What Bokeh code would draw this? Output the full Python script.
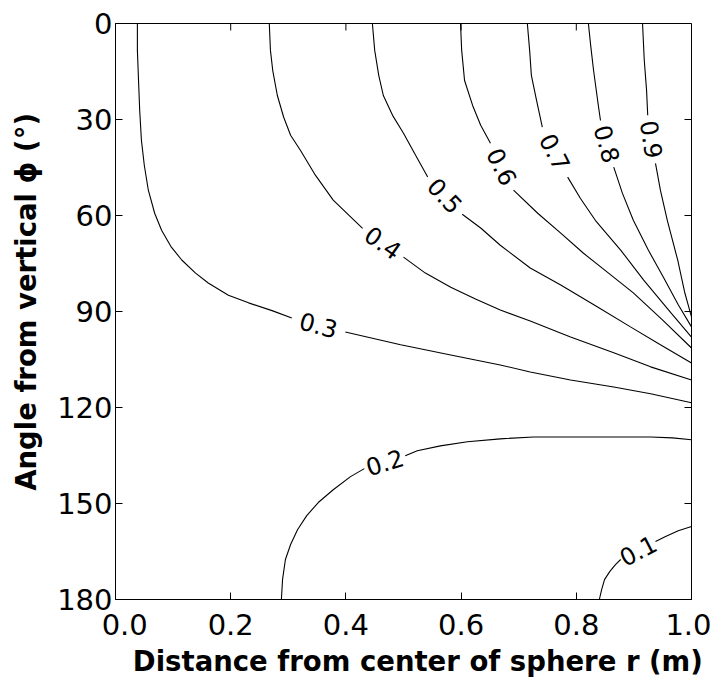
import math

from bokeh.core.properties import value
from bokeh.embed import file_html
from bokeh.models import FixedTicker, LinearAxis, Range1d
from bokeh.plotting import figure
from bokeh.resources import INLINE

# Contour levels of the normalised field
LEVELS = [0.1, 0.2, 0.3, 0.4, 0.5, 0.6, 0.7, 0.8, 0.9]

# Each contour: (r [m], phi [deg]) points; None marks the gap kept for the inline label
CONTOUR_01 = [(0.840, 180.0), (0.844, 176.9), (0.849, 173.8), (0.858, 171.3), (0.868, 169.1),
              (0.877, 167.5), None,
              (0.9375, 161.9), (0.955, 160.3), (0.977, 158.5), (1.0, 157.2)]

CONTOUR_02 = [(0.288, 180.0), (0.290, 173.8), (0.295, 167.5), (0.304, 162.8), (0.316, 158.2),
              (0.332, 153.8), (0.352, 149.7), (0.378, 145.7), (0.408, 141.6), (0.432, 139.1), None,
              (0.503, 135.1), (0.524, 133.5), (0.564, 132.0), (0.611, 130.7), (0.668, 129.8),
              (0.726, 129.2), (0.842, 129.2), (0.929, 129.2), (0.967, 129.5), (1.0, 130.1)]

CONTOUR_03 = [(0.038, 0.0), (0.038, 8.4), (0.040, 17.8), (0.042, 27.1), (0.045, 36.5),
              (0.050, 44.3), (0.057, 52.1), (0.068, 59.3), (0.080, 64.6), (0.097, 69.9),
              (0.115, 73.9), (0.139, 78.0), (0.161, 81.1), (0.196, 84.9), (0.231, 87.3),
              (0.273, 89.8), (0.306, 92.0), None,
              (0.399, 96.4), (0.495, 100.4), (0.582, 103.6), (0.668, 106.7), (0.720, 108.9),
              (0.790, 111.4), (0.865, 113.6), (0.929, 115.7), (1.0, 118.5)]

CONTOUR_04 = [(0.267, 0.0), (0.269, 8.4), (0.273, 14.7), (0.281, 22.5), (0.292, 29.3),
              (0.304, 34.9), (0.321, 39.6), (0.347, 47.4), (0.378, 55.2), (0.405, 59.9),
              (0.429, 64.0), None,
              (0.500, 73.0), (0.538, 78.0), (0.582, 82.4), (0.625, 86.1), (0.668, 89.5),
              (0.720, 93.0), (0.790, 98.0), (0.865, 102.9), (0.929, 107.3), (1.0, 111.4)]

CONTOUR_05 = [(0.446, 0.0), (0.450, 8.4), (0.457, 16.2), (0.465, 22.5), (0.481, 28.7),
              (0.500, 34.3), (0.521, 41.2), (0.542, 48.0), None,
              (0.602, 59.6), (0.634, 63.9), (0.668, 69.3), (0.720, 76.4), (0.773, 81.7),
              (0.837, 88.6), (0.894, 94.8), (0.946, 100.4), (1.0, 106.1)]

CONTOUR_06 = [(0.599, 0.0), (0.601, 8.4), (0.606, 17.8), (0.620, 25.6), (0.634, 31.8),
              (0.651, 37.4), None,
              (0.691, 52.1), (0.733, 59.3), (0.773, 65.5), (0.8125, 71.8), (0.856, 78.0),
              (0.899, 84.2), (0.950, 92.7), (1.0, 101.4)]

CONTOUR_07 = [(0.715, 0.0), (0.719, 8.4), (0.722, 16.2), (0.731, 24.0), (0.741, 32.4), None,
              (0.785, 48.0), (0.807, 54.6), (0.833, 61.5), (0.877, 70.8), (0.917, 80.2),
              (0.960, 89.5), (1.0, 98.0)]

CONTOUR_08 = [(0.821, 0.0), (0.825, 6.9), (0.830, 14.7), (0.837, 24.0), (0.842, 30.3), None,
              (0.865, 44.9), (0.880, 53.0), (0.899, 61.5), (0.925, 70.8), (0.951, 79.2),
              (0.977, 87.9), (1.0, 94.8)]

CONTOUR_09 = [(0.915, 0.0), (0.918, 11.5), (0.922, 20.9), (0.924, 28.7), None,
              (0.9375, 43.7), (0.946, 52.1), (0.958, 61.5), (0.976, 73.9), (0.988, 83.9),
              (1.0, 91.7)]

CONTOURS = [CONTOUR_01, CONTOUR_02, CONTOUR_03, CONTOUR_04, CONTOUR_05,
            CONTOUR_06, CONTOUR_07, CONTOUR_08, CONTOUR_09]

R_TICKS = [0.0, 0.2, 0.4, 0.6, 0.8, 1.0]
R_TICK_LABELS = ["\u00a0\u00a00.0", "0.2", "0.4", "0.6", "0.8", "1.0"]
PHI_TICKS = [0, 30, 60, 90, 120, 150, 180]

NBSP = "\u00a0"
X_TITLE = NBSP * 3 + "Distance from center of sphere r (m)"
Y_TITLE = NBSP * 2 + "Angle from vertical \u03d5 (\u00b0)"

FONT = "DejaVu Sans"
WIDTH, HEIGHT = 711, 679
BORDER_L, BORDER_R, BORDER_T, BORDER_B = 115, 20, 23, 79
FRAME_W = WIDTH - BORDER_L - BORDER_R
FRAME_H = HEIGHT - BORDER_T - BORDER_B
TICK_PX = 7

p = figure(
    width=WIDTH, height=HEIGHT,
    x_range=Range1d(0, 1), y_range=Range1d(180, 0),
    output_backend="svg", toolbar_location=None,
    min_border_left=BORDER_L, min_border_right=BORDER_R,
    min_border_top=BORDER_T, min_border_bottom=BORDER_B,
    x_axis_type=None, y_axis_type=None,
)
p.grid.visible = False
p.outline_line_color = "black"
p.outline_line_width = 1
p.background_fill_color = "white"
p.border_fill_color = "white"


def style_axis(ax):
    ax.major_tick_in = TICK_PX
    ax.major_tick_out = 0
    ax.minor_tick_line_color = None
    ax.axis_line_color = "black"
    ax.major_tick_line_color = "black"
    ax.major_label_text_font = FONT
    ax.major_label_text_color = "black"
    ax.major_label_text_font_size = "29px"
    ax.axis_label_text_font = FONT
    ax.axis_label_text_font_style = "bold"
    ax.axis_label_text_font_size = "27.5px"
    ax.axis_label_text_color = "black"


x_bottom = LinearAxis(ticker=FixedTicker(ticks=R_TICKS),
                      major_label_overrides={t: s for t, s in zip(R_TICKS, R_TICK_LABELS)},
                      axis_label=X_TITLE)
style_axis(x_bottom)
x_bottom.major_label_standoff = 8
x_bottom.axis_label_standoff = 0
p.add_layout(x_bottom, "below")

y_left = LinearAxis(ticker=FixedTicker(ticks=PHI_TICKS), axis_label=Y_TITLE)
style_axis(y_left)
y_left.major_label_standoff = 3
y_left.axis_label_standoff = 12
p.add_layout(y_left, "left")

# mirrored inward ticks on the top and right edges of the frame
dr = TICK_PX / FRAME_W
dphi = TICK_PX * 180.0 / FRAME_H
p.segment(x0=R_TICKS, y0=[0] * len(R_TICKS), x1=R_TICKS, y1=[dphi] * len(R_TICKS),
          line_color="black", line_width=1)
p.segment(x0=[1.0] * len(PHI_TICKS), y0=PHI_TICKS, x1=[1.0 - dr] * len(PHI_TICKS), y1=PHI_TICKS,
          line_color="black", line_width=1)

# screen pixels per data unit, used to orient the inline labels
sx = FRAME_W / 1.0
sy = FRAME_H / 180.0

for level, path in zip(LEVELS, CONTOURS):
    cut = path.index(None)
    before, after = path[:cut], path[cut + 1:]
    for seg in (before, after):
        p.line([pt[0] for pt in seg], [pt[1] for pt in seg],
               line_color="black", line_width=1.1)
    a, b = before[-1], after[0]
    mid_r, mid_phi = (a[0] + b[0]) / 2, (a[1] + b[1]) / 2
    ang = -math.atan2((b[1] - a[1]) * sy, (b[0] - a[0]) * sx)
    p.text(x=[mid_r], y=[mid_phi], text=[f"{level:.1f}"], angle=[ang],
           text_align="center", text_baseline="middle",
           text_font=value(FONT), text_font_size="24px", text_color="black")

open("out.html", "w").write(file_html(p, INLINE))
